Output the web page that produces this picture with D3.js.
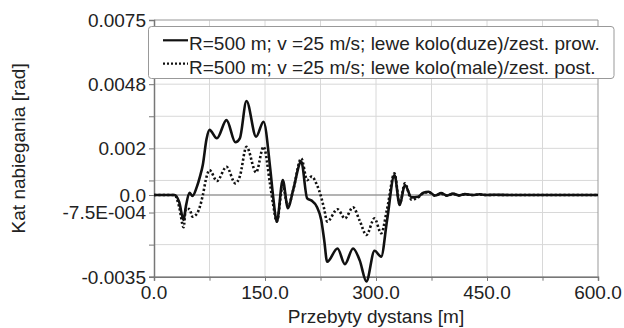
<!DOCTYPE html>
<html>
<head>
<meta charset="utf-8">
<script src="https://cdn.jsdelivr.net/npm/d3@7"></script>
<style>
  body { margin: 0; background: #fff; }
  svg text { font-family: Arial, "Liberation Sans", sans-serif; fill: #222; }
</style>
</head>
<body>
<script>
// distance along track [m]
var distance = [0, 20, 28, 34, 40, 43, 48, 52, 58, 62, 66, 71, 75, 85, 98, 110, 116, 125, 138, 148, 157, 161, 166,
  174, 181, 188, 199, 207, 213, 220, 226, 230, 234, 248, 258, 269, 278, 287, 298, 307, 315, 325, 332, 339,
  348, 357, 364, 371, 380, 388, 396, 404, 412, 420, 430, 440, 450, 460, 480, 520, 560, 600];
// left wheel (big) / leading wheelset
var angleFront = [0, 0, 0, -0.0003, -0.00107, -0.0005, 0.0001, -0.00004, 0.00036, 0.00078, 0.0013, 0.0024, 0.00279, 0.00243, 0.00321, 0.00226, 0.00243, 0.00403, 0.0025, 0.00314, 0.00115, -0.00007, -0.00114,
  0.00064, -0.00057, 0.00021, 0.00143, -0.00014, -0.00024, -0.0005, -0.00107, -0.00193, -0.00286, -0.00229, -0.00296, -0.00229, -0.0028, -0.0037, -0.00239, -0.00264, -0.00107, 0.00086, -0.00043, 0.00043,
  -0.0001, -0.00007, 0.0001, 0.00014, -0.00002, 0.00008, -0.00002, 0.00006, -0.00001, 0.00004, 0, 0.00003, 0, 0.00001, 0, 0, 0, 0];
// left wheel (small) / trailing wheelset
var angleRear = [0, 0, 0, -0.0005, -0.00138, -0.0006, -0.0006, -0.00093, -0.0008, -0.0005, 0, 0.00078, 0.00107, 0.0006, 0.00121, 0.0005, 0.0008, 0.00207, 0.00097, 0.00207, 0.00043, -0.0004, -0.00114,
  0.0004, -0.0005, 0.0002, 0.00157, 0.00064, 0.00079, 0.00045, -0.0001, -0.0006, -0.00114, -0.00061, -0.001, -0.00053, -0.0011, -0.00171, -0.001, -0.00164, -0.0006, 0.00093, -0.0004, 0.0005,
  -0.0002, -0.0001, 0.00008, 0.00012, -0.00003, 0.00006, -0.00003, 0.00005, -0.00002, 0.00003, 0, 0.00002, 0, 0, 0, 0, 0, 0];

var xTicks = [0, 150, 300, 450, 600];
var xGrid = [75, 150, 225, 300, 375, 450, 525];
var yTicks = [0.0075, 0.00475, 0.002, 0, -0.00075, -0.0035];
var yTickLabels = ["0.0075", "0.0048", "0.002", "0.0", "-7.5E-004", "-0.0035"];
var yMinor = [0.006125, 0.003375, 0.000625, -0.002125];
var legendLabels = ["R=500 m; v =25 m/s; lewe kolo(duze)/zest. prow.",
                    "R=500 m; v =25 m/s; lewe kolo(male)/zest. post."];

(function(){
  var width = 624, height = 328;
  var plotL = 154, plotR = 598, plotT = 20, plotB = 276.7;

  var svg = d3.select("body").append("svg")
      .attr("width", width)
      .attr("height", height);

  var x = d3.scaleLinear().domain([0, 600]).range([plotL, plotR]);
  var y = d3.scaleLinear().domain([-0.0035, 0.0075]).range([plotB, plotT]);

  // grid
  svg.append("g").selectAll("line").data(xGrid).enter().append("line")
      .attr("x1", d => x(d)).attr("x2", d => x(d))
      .attr("y1", plotT).attr("y2", plotB)
      .attr("stroke", "#d8d8d8").attr("stroke-width", 1);
  svg.append("g").selectAll("line").data(yTicks.concat(yMinor).filter(d => d != 0)).enter().append("line")
      .attr("x1", plotL).attr("x2", plotR)
      .attr("y1", d => y(d)).attr("y2", d => y(d))
      .attr("stroke", "#d8d8d8").attr("stroke-width", 1);
  // zero line
  svg.append("line")
      .attr("x1", plotL).attr("x2", plotR)
      .attr("y1", y(0)).attr("y2", y(0))
      .attr("stroke", "#9a9a9a").attr("stroke-width", 1.3);
  // frame top / right
  svg.append("line").attr("x1", plotL).attr("x2", plotR).attr("y1", plotT).attr("y2", plotT)
      .attr("stroke", "#aaa");
  svg.append("line").attr("x1", plotR).attr("x2", plotR).attr("y1", plotT).attr("y2", plotB)
      .attr("stroke", "#999");

  // axes
  var xAxis = svg.append("g")
      .attr("transform", "translate(0," + plotB + ")")
      .call(d3.axisBottom(x).tickValues(xTicks.concat(xGrid)).tickSize(4).tickFormat(""));
  var yAxis = svg.append("g")
      .attr("transform", "translate(" + plotL + ",0)")
      .call(d3.axisLeft(y).tickValues(yTicks.concat(yMinor)).tickSize(5).tickFormat(""));
  [xAxis, yAxis].forEach(function(a){
      a.select(".domain").attr("stroke", "#777").attr("stroke-width", 1.5);
      a.selectAll(".tick line").attr("stroke", "#777");
  });

  svg.append("g").selectAll("text").data(xTicks).enter().append("text")
      .attr("x", d => x(d)).attr("y", 299)
      .attr("text-anchor", "middle")
      .attr("font-size", "19px")
      .text(d => d3.format(".1f")(d));
  svg.append("g").selectAll("text").data(yTicks).enter().append("text")
      .attr("x", 146).attr("y", d => y(d))
      .attr("dy", "0.36em")
      .attr("text-anchor", "end")
      .attr("font-size", "19px")
      .text((d, i) => yTickLabels[i]);

  // axis titles
  svg.append("text")
      .attr("x", (plotL + plotR) / 2).attr("y", 323)
      .attr("text-anchor", "middle")
      .attr("font-size", "19px")
      .text("Przebyty dystans [m]");
  svg.append("text")
      .attr("transform", "translate(25," + ((plotT + plotB) / 2) + ") rotate(-90)")
      .attr("text-anchor", "middle")
      .attr("font-size", "19px")
      .text("Kat nabiegania [rad]");

  // series
  var line = d3.line().curve(d3.curveMonotoneX);
  svg.append("path")
      .attr("d", line(distance.map((d, i) => [x(d), y(angleRear[i])])))
      .attr("fill", "none").attr("stroke", "#111")
      .attr("stroke-width", 2.6).attr("stroke-dasharray", "2.2,2.2");
  svg.append("path")
      .attr("d", line(distance.map((d, i) => [x(d), y(angleFront[i])])))
      .attr("fill", "none").attr("stroke", "#111")
      .attr("stroke-width", 2.6);

  // legend
  var lg = svg.append("g");
  lg.append("rect")
      .attr("x", 148.5).attr("y", 26.5).attr("width", 465.5).attr("height", 52)
      .attr("rx", 3)
      .attr("fill", "#fff").attr("stroke", "#999");
  legendLabels.forEach(function(t, i){
      var cy = 40.3 + i * 23.4;
      lg.append("line")
          .attr("x1", 163).attr("x2", 188).attr("y1", cy).attr("y2", cy)
          .attr("stroke", "#111").attr("stroke-width", 2.2)
          .attr("stroke-dasharray", i == 0 ? null : "2,2");
      lg.append("text")
          .attr("x", 189).attr("y", cy + 10)
          .attr("font-size", "19px")
          .text(t);
  });
})();
</script>
</body>
</html>
